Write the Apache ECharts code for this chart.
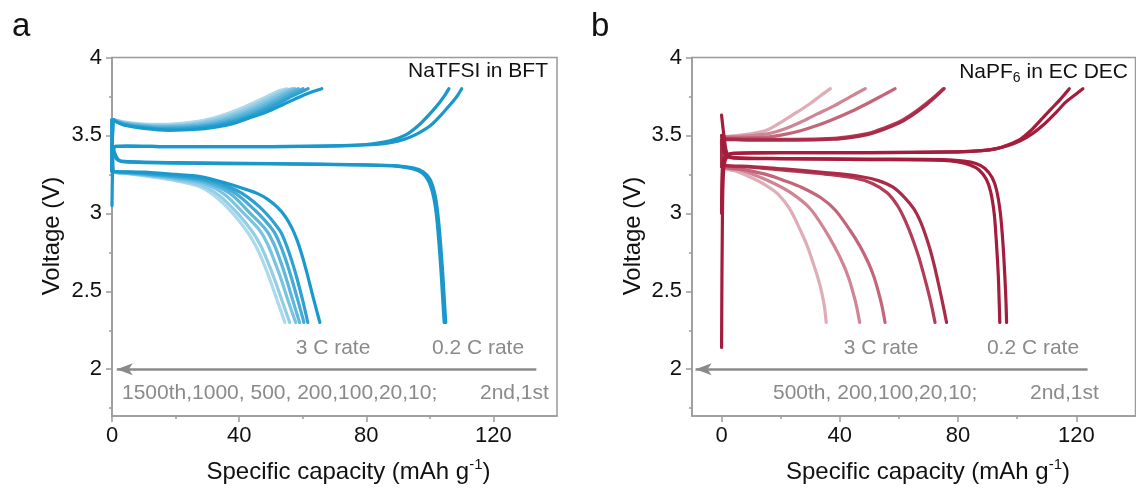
<!DOCTYPE html>
<html><head><meta charset="utf-8">
<script src="https://cdn.jsdelivr.net/npm/echarts@6/dist/echarts.min.js"></script>
<style>html,body{margin:0;padding:0;background:#fff}#c{width:1136px;height:488px}</style>
</head><body><div id="c"></div><script>
// ---------- axis ticks ----------
const xTicksMajor = [0, 40, 80, 120];
const xTicksMinor = [20, 60, 100];
const yTicksMajor = [2, 2.5, 3, 3.5, 4];
const yTicksMinor = [1.75, 2.25, 2.75, 3.25, 3.75];

// ---------- panel a: NaTFSI in BFT  [capacity mAh/g, voltage V] ----------
const bftCharge1st = [[0,3.05],[0.2,3.3],[0.5,3.4],[1.2,3.43],[5,3.432],[20,3.428],[40,3.428],[60,3.43],[75,3.435],[83,3.442],[88,3.455],[92,3.475],[96,3.51],[100,3.56],[103.5,3.63],[106.5,3.7],[108.5,3.75],[110,3.8]];
const bftCharge2nd = [[0,3.28],[0.3,3.4],[1,3.43],[5,3.432],[20,3.428],[40,3.428],[60,3.43],[72,3.435],[80,3.442],[85,3.455],[89,3.475],[93,3.51],[97,3.575],[100.5,3.65],[103,3.71],[104.8,3.76],[106,3.8]];
const bftDischarge1st = [[0,3.45],[0.8,3.39],[2,3.345],[4,3.333],[20,3.325],[50,3.32],[80,3.312],[90,3.305],[95,3.29],[98,3.265],[100,3.22],[101.5,3.13],[102.5,3.0],[103.4,2.8],[104.1,2.6],[104.6,2.43],[105,2.3]];
const bftDischarge2nd = [[0,3.42],[0.8,3.37],[2,3.34],[4,3.33],[20,3.322],[50,3.317],[80,3.31],[90,3.302],[94.5,3.287],[97.5,3.26],[99.5,3.21],[101,3.12],[102,3.0],[102.9,2.8],[103.6,2.6],[104.1,2.43],[104.5,2.3]];
const bftCharge10 = [[0,3.27],[0.2,3.55],[0.5,3.6],[1.5,3.585],[4,3.565],[10,3.545],[18,3.533],[26,3.538],[33,3.555],[38,3.576],[43,3.61],[48.6,3.65],[54,3.7],[59,3.747],[63,3.78],[66,3.8]];
const bftCharge20 = [[0,3.27],[0.2,3.55],[0.5,3.6],[1.5,3.587],[4,3.568],[10,3.55],[17,3.54],[24,3.544],[31,3.558],[37,3.582],[42,3.614],[47,3.654],[52,3.702],[57,3.755],[59.6,3.78],[61.7,3.8]];
const bftCharge100 = [[0,3.27],[0.2,3.55],[0.5,3.6],[1.5,3.589],[4,3.572],[10,3.555],[16,3.547],[23,3.55],[30,3.563],[36,3.588],[41,3.619],[46,3.659],[51,3.708],[55.5,3.757],[58,3.782],[60.1,3.8]];
const bftCharge200 = [[0,3.27],[0.2,3.55],[0.5,3.6],[1.5,3.591],[4,3.576],[10,3.56],[16,3.554],[22,3.557],[29,3.569],[35,3.594],[40,3.626],[45,3.666],[50,3.714],[54.2,3.76],[56.6,3.784],[58.6,3.8]];
const bftCharge500 = [[0,3.27],[0.2,3.55],[0.5,3.6],[1.5,3.593],[4,3.579],[10,3.564],[15,3.559],[21,3.562],[28,3.575],[34,3.6],[39,3.632],[44,3.672],[49,3.72],[53.2,3.764],[55.5,3.786],[57.5,3.8]];
const bftCharge1000 = [[0,3.27],[0.2,3.55],[0.5,3.6],[1.5,3.595],[4,3.582],[10,3.568],[15,3.564],[20,3.566],[27,3.58],[33,3.606],[38,3.638],[43,3.678],[48,3.726],[52.2,3.768],[54.5,3.788],[57,3.8]];
const bftCharge1500 = [[0,3.27],[0.2,3.55],[0.5,3.6],[1.5,3.597],[4,3.586],[9,3.575],[14,3.571],[19,3.573],[26,3.587],[32,3.612],[37,3.645],[42,3.686],[47,3.733],[51,3.773],[53,3.789],[54.9,3.8]];
const bftDischarge10 = [[0,3.6],[0.1,3.4],[0.3,3.27],[10,3.265],[20,3.25],[27.7,3.236],[35,3.2],[42,3.155],[46,3.125],[49,3.09],[52,3.04],[54.5,2.98],[56.5,2.91],[58.2,2.83],[59.8,2.73],[61.3,2.62],[62.8,2.5],[64.2,2.39],[65.4,2.3]];
const bftDischarge20 = [[0,3.6],[0.1,3.4],[0.3,3.27],[5,3.264],[12,3.255],[20,3.24],[29,3.22],[39,3.15],[46.5,3.04],[52.8,2.89],[54.8,2.8],[56.5,2.7],[58.1,2.59],[59.9,2.45],[61.6,2.3]];
const bftDischarge100 = [[0,3.6],[0.1,3.4],[0.3,3.27],[5,3.262],[12,3.25],[20,3.235],[29,3.21],[38,3.14],[45,3.02],[50.7,2.89],[52.9,2.8],[54.7,2.7],[56.4,2.59],[58.5,2.44],[60.4,2.3]];
const bftDischarge200 = [[0,3.6],[0.1,3.4],[0.3,3.27],[5,3.26],[12,3.247],[20,3.228],[29,3.2],[37,3.13],[43.5,3.0],[48.6,2.89],[51,2.8],[52.9,2.7],[54.7,2.59],[56.9,2.44],[59,2.3]];
const bftDischarge500 = [[0,3.6],[0.1,3.4],[0.3,3.27],[5,3.258],[12,3.243],[20,3.222],[29,3.19],[35.5,3.12],[41.5,3.0],[46.5,2.89],[49,2.8],[51,2.7],[53,2.59],[55.4,2.44],[57.8,2.3]];
const bftDischarge1000 = [[0,3.6],[0.1,3.4],[0.3,3.27],[5,3.257],[12,3.24],[20,3.215],[28,3.18],[34,3.11],[39.5,3.0],[43.9,2.89],[46.6,2.8],[48.8,2.7],[50.9,2.59],[53.5,2.44],[55.9,2.3]];
const bftDischarge1500 = [[0,3.6],[0.1,3.4],[0.3,3.27],[5,3.255],[12,3.235],[20,3.21],[27.7,3.17],[33,3.1],[38,3.0],[42.3,2.89],[45,2.8],[47.3,2.7],[49.4,2.59],[52,2.44],[54.4,2.3]];
const bftArrow = [[133.5, 2], [1.5, 2]];

// ---------- panel b: NaPF6 in EC DEC ----------
const pf6Charge1st = [[0,2.14],[0.3,3.0],[0.8,3.3],[2,3.37],[4,3.385],[20,3.39],[50,3.39],[80,3.395],[88,3.402],[93,3.415],[97,3.435],[101,3.465],[105,3.51],[109,3.57],[113,3.645],[116.5,3.715],[119.5,3.76],[122.2,3.8]];
const pf6Charge2nd = [[0,3.0],[0.3,3.3],[1.5,3.37],[4,3.385],[20,3.39],[50,3.39],[80,3.395],[88,3.402],[93,3.415],[97,3.44],[101,3.475],[104.5,3.53],[108,3.6],[111.5,3.67],[114.5,3.73],[116.3,3.77],[117.6,3.8]];
const pf6Discharge1st = [[0,3.63],[0.8,3.5],[1.9,3.38],[4,3.36],[20,3.352],[50,3.348],[75,3.345],[82,3.335],[86,3.32],[89,3.29],[91.5,3.23],[93,3.15],[94.3,3.0],[95.2,2.8],[95.8,2.6],[96.2,2.43],[96.4,2.3]];
const pf6Discharge2nd = [[0,3.5],[0.5,3.42],[1.5,3.37],[4,3.355],[20,3.35],[50,3.345],[75,3.34],[80,3.33],[84,3.31],[87,3.28],[89.5,3.22],[91,3.14],[92.2,3.0],[93,2.8],[93.6,2.6],[93.9,2.43],[94.1,2.3]];
const pf6Charge10 = [[0,3.3],[0.2,3.45],[0.5,3.475],[10,3.47],[25,3.47],[38,3.476],[44,3.488],[49.3,3.505],[55,3.54],[60.5,3.584],[65,3.636],[69.5,3.7],[72.8,3.755],[75.3,3.8]];
const pf6Charge20 = [[0,3.3],[0.2,3.45],[0.5,3.48],[10,3.476],[25,3.475],[38,3.482],[44,3.495],[49.3,3.512],[55,3.548],[60.5,3.592],[65,3.645],[69.5,3.71],[72.5,3.757],[75,3.8]];
const pf6Charge100 = [[0,3.3],[0.2,3.45],[0.5,3.485],[8,3.485],[15.4,3.49],[21,3.505],[26.7,3.53],[33,3.568],[38,3.605],[44,3.655],[49.3,3.705],[54.5,3.757],[58.7,3.8]];
const pf6Charge200 = [[0,3.3],[0.2,3.45],[0.5,3.49],[5,3.493],[15.4,3.51],[21,3.54],[26.7,3.585],[32,3.635],[38,3.69],[43.5,3.748],[48.6,3.8]];
const pf6Charge500 = [[0,3.3],[0.2,3.45],[0.5,3.49],[3,3.495],[9.8,3.51],[15.4,3.535],[21,3.595],[26,3.655],[30,3.705],[33.5,3.755],[36.8,3.8]];
const pf6Discharge10 = [[0,3.47],[0.3,3.318],[10,3.3],[21,3.285],[35,3.262],[46,3.24],[53,3.21],[58,3.168],[62,3.1],[65,3.03],[67.2,2.95],[69,2.86],[70.5,2.77],[71.9,2.67],[73.1,2.57],[74.6,2.44],[76.1,2.3]];
const pf6Discharge20 = [[0,3.47],[0.3,3.316],[10,3.296],[21,3.277],[35,3.252],[45,3.227],[51,3.192],[56,3.132],[59.5,3.05],[61.6,2.975],[63.3,2.9],[65,2.815],[66.7,2.72],[68.2,2.62],[69.6,2.52],[71,2.41],[72.2,2.3]];
const pf6Discharge100 = [[0,3.46],[0.3,3.31],[8,3.28],[15,3.25],[21.3,3.21],[27,3.168],[33.6,3.1],[38.5,3.02],[43.5,2.89],[46.8,2.79],[49.6,2.685],[51.5,2.595],[53,2.5],[54.2,2.41],[55.3,2.3]];
const pf6Discharge200 = [[0,3.45],[0.3,3.305],[6,3.28],[12,3.24],[18,3.19],[24,3.125],[30,3.03],[35.1,2.89],[38.1,2.79],[41,2.68],[42.9,2.59],[44.5,2.49],[45.7,2.4],[46.7,2.3]];
const pf6Discharge500 = [[0,3.44],[0.3,3.3],[5,3.27],[10,3.23],[15,3.18],[19,3.125],[23,3.03],[26.7,2.89],[29,2.79],[31,2.68],[32.6,2.585],[33.9,2.49],[34.8,2.4],[35.4,2.3]];
const pf6Arrow = [[123.8, 2], [-8.8, 2]];

// ---------- styles ----------
const FONT = '"Liberation Sans", Arial, sans-serif';
const AXIS = '#9a9a9a';
const NOTE = '#8a8a8a';
// drawn from lightest to darkest
const bftCurves = [
  [bftCharge1500, bftDischarge1500, '#acd9ec'],
  [bftCharge1000, bftDischarge1000, '#93cee7'],
  [bftCharge500, bftDischarge500, '#7ac3e1'],
  [bftCharge200, bftDischarge200, '#60b7dc'],
  [bftCharge100, bftDischarge100, '#46abd6'],
  [bftCharge20, bftDischarge20, '#2ea1d1'],
  [bftCharge10, bftDischarge10, '#1a99cc'],
  [bftCharge2nd, bftDischarge2nd, '#1a98cb'],
  [bftCharge1st, bftDischarge1st, '#1a98cb']
];
const pf6Curves = [
  [pf6Charge500, pf6Discharge500, '#deadb8'],
  [pf6Charge200, pf6Discharge200, '#cf8594'],
  [pf6Charge100, pf6Discharge100, '#c3667a'],
  [pf6Charge20, pf6Discharge20, '#b23d58'],
  [pf6Charge10, pf6Discharge10, '#aa2b48'],
  [pf6Charge2nd, pf6Discharge2nd, '#a51d3c'],
  [pf6Charge1st, pf6Discharge1st, '#a51d3c']
];

const grids = [
  {left: 112, top: 57.5, width: 445, height: 358.5},
  {left: 692, top: 57.5, width: 443.5, height: 358.5}
];
const xRanges = [[0, 140], [-10, 140]];

const xAxes = [], yAxes = [];
grids.forEach((g, i) => {
  xAxes.push({gridIndex: i, type: 'value', position: 'bottom', min: xRanges[i][0], max: xRanges[i][1],
    axisLine: {show: true, onZero: false, lineStyle: {color: AXIS, width: 1.5}},
    axisTick: {show: true, customValues: xTicksMajor, length: 6, lineStyle: {color: AXIS, width: 1.5}},
    axisLabel: {show: true, customValues: xTicksMajor, fontSize: 22, color: '#111', fontFamily: FONT, margin: 9},
    splitLine: {show: false}});
  xAxes.push({gridIndex: i, type: 'value', position: 'bottom', min: xRanges[i][0], max: xRanges[i][1],
    axisLine: {show: false, onZero: false},
    axisTick: {show: true, customValues: xTicksMinor, length: 3, lineStyle: {color: AXIS, width: 1.5}},
    axisLabel: {show: false}, splitLine: {show: false}});
  yAxes.push({gridIndex: i, type: 'value', position: 'left', min: 1.7, max: 4,
    axisLine: {show: true, onZero: false, lineStyle: {color: AXIS, width: 1.5}},
    axisTick: {show: true, customValues: yTicksMajor, length: 6, lineStyle: {color: AXIS, width: 1.5}},
    axisLabel: {show: true, customValues: yTicksMajor, fontSize: 22, color: '#111', fontFamily: FONT, margin: 10},
    splitLine: {show: false}});
  yAxes.push({gridIndex: i, type: 'value', position: 'left', min: 1.7, max: 4,
    axisLine: {show: false, onZero: false},
    axisTick: {show: true, customValues: yTicksMinor, length: 3, lineStyle: {color: AXIS, width: 1.5}},
    axisLabel: {show: false}, splitLine: {show: false}});
});

const series = [];
function addCurve(data, color, gi) {
  series.push({type: 'line', xAxisIndex: gi * 2, yAxisIndex: gi * 2, data: data, symbol: 'none',
    smooth: 0.3, silent: true, lineStyle: {color: color, width: 3.2, cap: 'round', join: 'round'}});
}
bftCurves.forEach(c => { addCurve(c[0], c[2], 0); addCurve(c[1], c[2], 0); });
pf6Curves.forEach(c => { addCurve(c[0], c[2], 1); addCurve(c[1], c[2], 1); });
[bftArrow, pf6Arrow].forEach((a, gi) => {
  series.push({type: 'line', xAxisIndex: gi * 2, yAxisIndex: gi * 2, data: [], silent: true,
    markLine: {silent: true, animation: false, symbol: 'none', symbolSize: 10,
      label: {show: false}, lineStyle: {color: NOTE, width: 2.5, type: 'solid'},
      emphasis: {disabled: true},
      data: [[{coord: a[0], symbol: 'none', symbolSize: 1},
              {coord: a[1], symbol: 'arrow', symbolSize: [9, 16]}]]}});
});

function txt(x, y, text, size, color, align, extra) {
  return Object.assign({type: 'text', x: x, y: y, silent: true, style: {text: text,
    font: size + 'px ' + FONT, fill: color, align: align || 'left', verticalAlign: 'middle'}}, extra || {});
}
const titleRich = {
  a: {font: '24px ' + FONT, fill: '#111', lineHeight: 30},
  s: {font: '15px ' + FONT, fill: '#111', verticalAlign: 'top', lineHeight: 30}
};
const graphic = [
  txt(12, 26.5, 'a', 33, '#111', 'left'),
  txt(591, 26.5, 'b', 33, '#111', 'left'),
  txt(52.5, 236, 'Voltage (V)', 24, '#111', 'center', {rotation: Math.PI / 2}),
  txt(633, 236, 'Voltage (V)', 24, '#111', 'center', {rotation: Math.PI / 2}),
  {type: 'text', x: 348.5, y: 472, silent: true, style: {text: '{a|Specific capacity (mAh g}{s|-1}{a|)}', rich: titleRich, align: 'center', verticalAlign: 'middle'}},
  {type: 'text', x: 928, y: 472, silent: true, style: {text: '{a|Specific capacity (mAh g}{s|-1}{a|)}', rich: titleRich, align: 'center', verticalAlign: 'middle'}},
  txt(548, 71, 'NaTFSI in BFT', 21, '#111', 'right'),
  {type: 'text', x: 1128, y: 72, silent: true, style: {text: '{a|NaPF}{s|6}{a| in EC DEC}', align: 'right', verticalAlign: 'middle',
    rich: {a: {font: '21px ' + FONT, fill: '#111', lineHeight: 26}, s: {font: '14px ' + FONT, fill: '#111', verticalAlign: 'bottom', lineHeight: 26}}}},
  txt(333, 348, '3 C rate', 21, NOTE, 'center'),
  txt(478, 348, '0.2 C rate', 21, NOTE, 'center'),
  txt(122, 393, '1500th,1000, 500, 200,100,20,10;', 21, NOTE, 'left'),
  txt(480, 393, '2nd,1st', 21, NOTE, 'left'),
  txt(881, 348, '3 C rate', 21, NOTE, 'center'),
  txt(1033, 348, '0.2 C rate', 21, NOTE, 'center'),
  txt(773, 393, '500th, 200,100,20,10;', 21, NOTE, 'left'),
  txt(1030, 393, '2nd,1st', 21, NOTE, 'left')
];

const chart = echarts.init(document.getElementById('c'), null, {renderer: 'canvas'});
chart.setOption({
  animation: false,
  backgroundColor: '#fff',
  grid: grids.map(g => Object.assign({show: true, borderColor: AXIS, borderWidth: 1.5, backgroundColor: 'transparent', containLabel: false}, g)),
  xAxis: xAxes,
  yAxis: yAxes,
  series: series,
  graphic: graphic
});
</script></body></html>
